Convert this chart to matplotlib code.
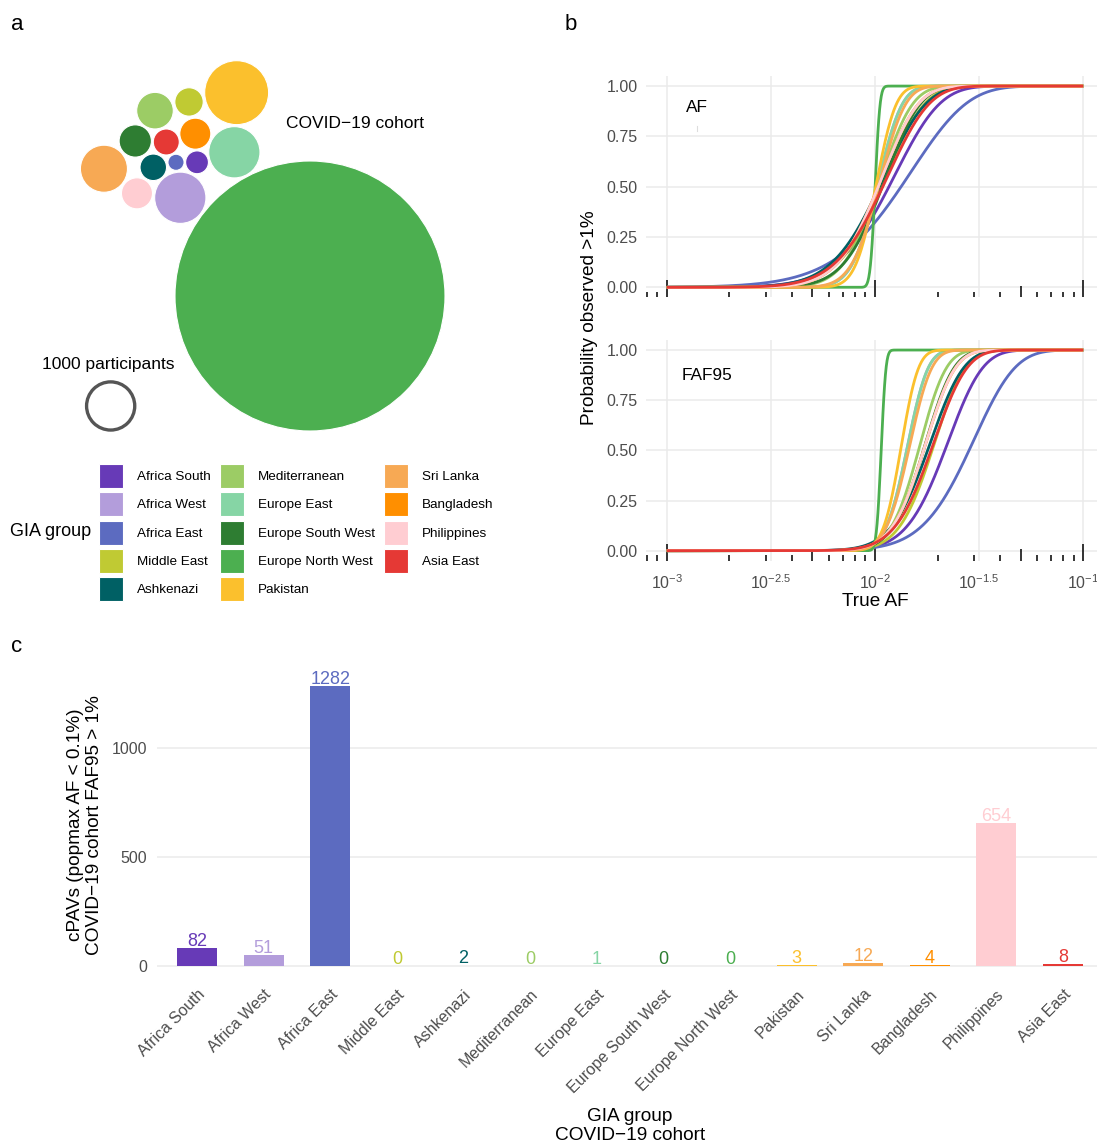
import numpy as np
import matplotlib
matplotlib.use('Agg')
import matplotlib.pyplot as plt
from matplotlib.patches import Circle, Patch

plt.rcParams['font.family'] = ['Liberation Sans', 'DejaVu Sans']
plt.rcParams['mathtext.fontset'] = 'custom'
plt.rcParams['mathtext.rm'] = 'Liberation Sans'
plt.rcParams['mathtext.it'] = 'Liberation Sans:italic'

groups = ['Africa South', 'Africa West', 'Africa East', 'Middle East', 'Ashkenazi',
          'Mediterranean', 'Europe East', 'Europe South West', 'Europe North West',
          'Pakistan', 'Sri Lanka', 'Bangladesh', 'Philippines', 'Asia East']
colors = ['#673AB7', '#B39DDB', '#5C6BC0', '#C0CA33', '#006064',
          '#9CCC65', '#86D5A5', '#2E7D32', '#4CAF50',
          '#FBC02D', '#F7A954', '#FF8F00', '#FFCDD2', '#E53935']

# participants per group (COVID-19 cohort)
participants = [200, 1010, 100, 310, 270, 515, 1010, 400, 28000, 1570, 850, 370, 370, 260]
# packed-circle layout (units of sqrt(participants/pi))
layout_x = [-79.0, -90.7, -93.7, -84.6, -109.6, -108.4, -52.9, -122.2, 0.0,
            -51.3, -144.1, -80.2, -121.0, -100.5]
layout_y = [93.5, 68.7, 93.5, 135.7, 90.0, 129.6, 100.5, 108.4, 0.0,
            142.2, 89.0, 113.5, 71.8, 107.7]

# cPAVs with popmax AF < 0.1% and cohort FAF95 > 1%
cpavs = [82, 51, 1282, 0, 2, 0, 1, 0, 0, 3, 12, 4, 654, 8]

W, H = 1097, 1146
fig = plt.figure(figsize=(W / 100, H / 100), dpi=100)
GREY = '#4D4D4D'
GRID = '#EBEBEB'


def px_axes(x0, y0, x1, y1):
    return fig.add_axes([x0 / W, 1 - y1 / H, (x1 - x0) / W, (y1 - y0) / H])


# ---------- panel a: bubbles ----------
S = 1.43
axa = px_axes(0, 40, 550, 450)
axa.set_xlim((0 - 310) / S, (550 - 310) / S)
axa.set_ylim((296 - 450) / S, (296 - 40) / S)
axa.axis('off')
for n, cx, cy, c in zip(participants, layout_x, layout_y, colors):
    axa.add_patch(Circle((cx, cy), np.sqrt(n / np.pi), facecolor=c, edgecolor='white', lw=0.8))
axa.add_patch(Circle((-139.4, -76.9), np.sqrt(1000 / np.pi) - 1, facecolor='none',
                     edgecolor='#555555', lw=2.4))
axa.text(-16.8, 120.3, 'COVID\u221219 cohort', fontsize=12.5, ha='left', va='center')
axa.text(-140.9, -47.6, '1000 participants', fontsize=12.5, ha='center', va='center')

handles = [Patch(facecolor=c, edgecolor='white', lw=0.8) for c in colors]
fs_leg = 9.7
fsp = fs_leg * 100 / 72
key = 24 / fsp
fig.legend(handles, groups, ncol=3, loc='upper left',
           bbox_to_anchor=(99 / W, 1 - 464 / H), frameon=False, fontsize=fs_leg,
           handlelength=key, handleheight=(key - 0.245) / 0.65, labelspacing=4.3 / fsp,
           handletextpad=14 / fsp, columnspacing=9 / fsp, borderpad=0, borderaxespad=0)
fig.text(10 / W, 1 - 531 / H, 'GIA group', fontsize=13, ha='left', va='center')


# ---------- panel b: detection probability ----------
def log_fact(nmax):
    return np.concatenate([[0.0], np.cumsum(np.log(np.arange(1, nmax + 1)))])


LF = log_fact(2 * max(participants) + 10)
p_grid = np.logspace(-3, -1, 500)


def binom_tail(N, k, p):
    j = np.arange(k)
    lp = (LF[N] - LF[j] - LF[N - j])[None, :] + j[None, :] * np.log(p)[:, None] \
        + (N - j)[None, :] * np.log1p(-p)[:, None]
    return np.clip(1 - np.exp(lp).sum(axis=1), 0, 1)


def faf_threshold(N):
    lam = N / 100
    j = np.arange(int(lam * 3 + 50))
    lp = j * np.log(lam) - lam - LF[j]
    upper = 1 - np.concatenate([[0.0], np.cumsum(np.exp(lp))])[:-1]
    return int(j[np.argmax(upper < 0.05)])


panel_b = [px_axes(646, 76, 1104, 297.4), px_axes(646, 340, 1104, 560.7)]
for i, ax in enumerate(panel_b):
    ax.set_xscale('log')
    ax.set_xlim(10 ** -3.1, 10 ** -0.9)
    ax.set_ylim(-0.05, 1.05)
    ax.set_xticks(10 ** np.array([-3, -2.5, -2, -1.5, -1]))
    ax.set_xticklabels([r'$10^{-3}$', r'$10^{-2.5}$', r'$10^{-2}$', r'$10^{-1.5}$', r'$10^{-1}$'])
    ax.xaxis.set_minor_locator(matplotlib.ticker.NullLocator())
    ax.set_yticks([0, 0.25, 0.5, 0.75, 1])
    ax.set_yticklabels(['0.00', '0.25', '0.50', '0.75', '1.00'])
    ax.tick_params(length=0, labelsize=11.5, labelcolor=GREY, pad=6)
    ax.tick_params(axis='x', pad=9, labelbottom=(i == 1))
    ax.grid(color=GRID, lw=1.1)
    ax.set_axisbelow(True)
    for s in ax.spines.values():
        s.set_visible(False)
    # log ticks along the bottom
    xs, lens = [], []
    hpx = 221.4 if i == 0 else 220.7
    for d in range(-4, 0):
        for m in range(1, 10):
            x = m * 10.0 ** d
            if 10 ** -3.1 <= x <= 10 ** -0.9:
                xs.append(x)
                lens.append((17 if m == 1 else 11.3 if m == 5 else 5.7) / hpx)
    ax.vlines(xs, 0, lens, transform=ax.get_xaxis_transform(), color='black', lw=1.1)

    for n, c in zip(participants, colors):
        N = 2 * n
        k = N // 100 + 1 if i == 0 else faf_threshold(N)
        ax.plot(p_grid, binom_tail(N, k, p_grid), color=c, lw=2.0, solid_capstyle='butt')

panel_b[0].text(10 ** -2.855, 0.892, 'AF', fontsize=12.4, ha='center', va='center')
panel_b[0].plot([10 ** -2.855] * 2, [0.775, 0.8], color='#DDDDDD', lw=0.8)
panel_b[1].text(10 ** -2.807, 0.875, 'FAF95', fontsize=12.4, ha='center', va='center')
fig.text(590 / W, 1 - 318 / H, 'Probability observed >1%', fontsize=13.7,
         rotation=90, ha='center', va='center')
fig.text(875 / W, 1 - 602 / H, 'True AF', fontsize=13.7, ha='center', va='center')

# ---------- panel c: cPAV counts ----------
axc = px_axes(157, 672, 1103, 980)
pos = np.arange(1, len(groups) + 1)
axc.bar(pos, cpavs, width=0.6, color=colors)
axc.set_xlim(0.4, 14.6)
axc.set_ylim(-64.1, 1346.1)
axc.set_yticks([0, 500, 1000])
axc.set_xticks(pos)
axc.set_xticklabels(groups, rotation=45, ha='right', va='top', rotation_mode='anchor')
axc.tick_params(length=0, labelsize=11.5, labelcolor=GREY)
axc.tick_params(axis='y', pad=7)
axc.tick_params(axis='x', pad=5)
axc.yaxis.grid(True, color=GRID, lw=1.1)
axc.set_axisbelow(True)
for s in axc.spines.values():
    s.set_visible(False)
for x, v, c in zip(pos, cpavs, colors):
    axc.annotate(str(v), (x, v), xytext=(0, 1.5), textcoords='offset points',
                 ha='center', va='baseline', color=c, fontsize=13)
fig.text(85 / W, 1 - 825 / H, 'cPAVs (popmax AF < 0.1%)\nCOVID\u221219 cohort FAF95 > 1%',
         fontsize=13.7, rotation=90, ha='center', va='center', multialignment='center',
         linespacing=1.1)
fig.text(630 / W, 1 - 1126 / H, 'GIA group\nCOVID\u221219 cohort', fontsize=13.7,
         ha='center', va='center', multialignment='center', linespacing=1.1)

for lbl, x, y in [('a', 17, 25), ('b', 571, 25), ('c', 17, 647)]:
    fig.text(x / W, 1 - y / H, lbl, fontsize=16, ha='center', va='center')

fig.savefig('out.png', dpi=100)
